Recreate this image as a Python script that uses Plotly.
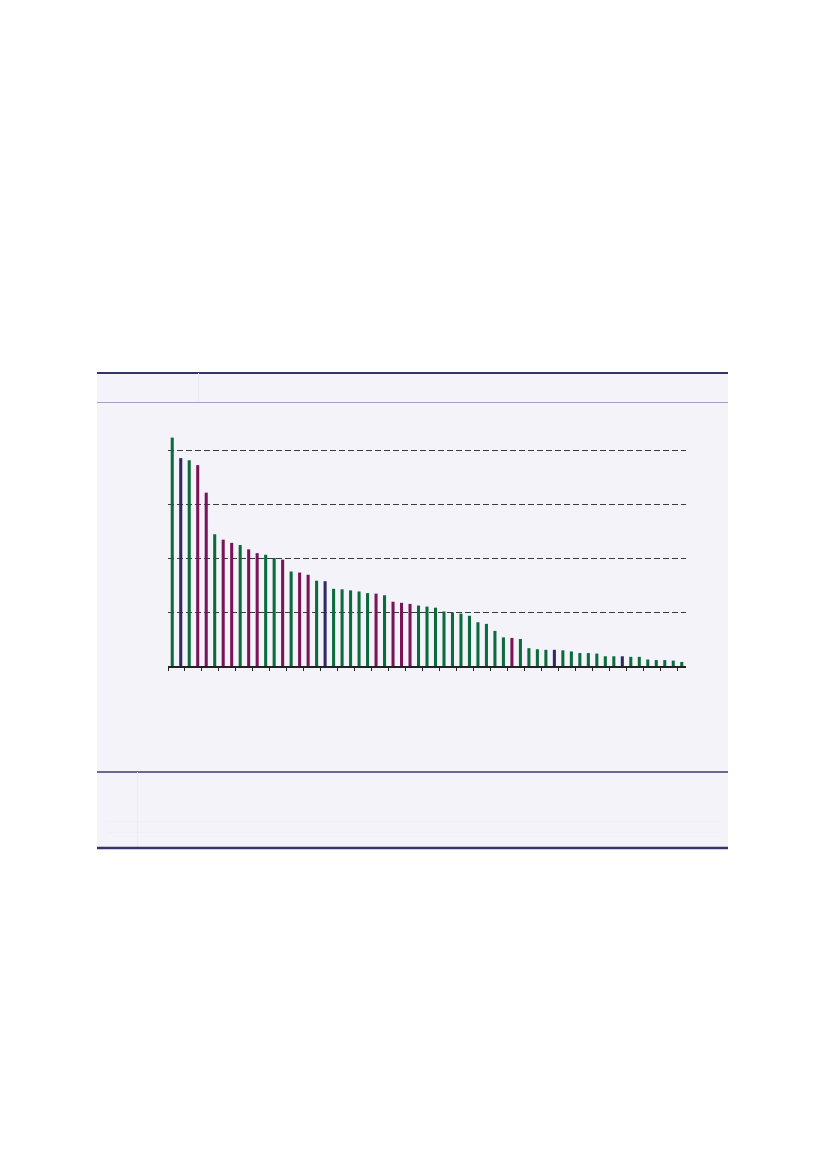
import plotly.graph_objects as go

# --- data (bars sorted descending) ---
categories = [f"C{i:02d}" for i in range(1, 62)]
values = [
    4.23, 3.85, 3.81, 3.72, 3.21, 2.44, 2.34, 2.28, 2.24, 2.16,
    2.09, 2.06, 2.00, 1.97, 1.75, 1.73, 1.69, 1.58, 1.57, 1.43,
    1.42, 1.40, 1.38, 1.35, 1.34, 1.31, 1.19, 1.17, 1.15, 1.12,
    1.10, 1.08, 1.01, 0.99, 0.97, 0.93, 0.81, 0.78, 0.65, 0.53,
    0.52, 0.50, 0.33, 0.31, 0.30, 0.30, 0.29, 0.27, 0.24, 0.24,
    0.23, 0.18, 0.18, 0.18, 0.17, 0.17, 0.12, 0.11, 0.11, 0.10,
    0.075,
]
groups = [
    "G", "N", "G", "P", "P", "G", "P", "P", "G", "P",
    "P", "G", "G", "P", "G", "P", "P", "G", "N", "G",
    "G", "G", "G", "G", "P", "G", "P", "P", "P", "G",
    "G", "G", "G", "G", "G", "G", "G", "G", "G", "G",
    "P", "G", "G", "G", "G", "N", "G", "G", "G", "G",
    "G", "G", "G", "N", "G", "G", "G", "G", "G", "G",
    "G",
]
grid_values = [1, 2, 3, 4]

GROUP_COLORS = {"G": "#0b6a3e", "P": "#7a1456", "N": "#2d2a66"}

W, H = 826, 1169
L, R, T, B = 168, 140, 428, 503
PLOT_W = W - L - R
PLOT_H = H - T - B


def px_x(x):
    return (x - L) / PLOT_W


def px_y(y):
    return (H - B - y) / PLOT_H


def hline(y, x0, x1, color, width):
    return dict(type="line", xref="paper", yref="paper",
                x0=px_x(x0), x1=px_x(x1), y0=px_y(y), y1=px_y(y),
                line=dict(color=color, width=width), layer="below")


def vline(x, y0, y1, color, width):
    return dict(type="line", xref="paper", yref="paper",
                x0=px_x(x), x1=px_x(x), y0=px_y(y0), y1=px_y(y1),
                line=dict(color=color, width=width), layer="below")


fig = go.Figure(
    go.Bar(
        x=categories,
        y=values,
        marker=dict(color=[GROUP_COLORS[g] for g in groups], line=dict(width=0)),
        width=0.36,
        hoverinfo="skip",
    )
)

shapes = [
    # panel background
    dict(type="rect", xref="paper", yref="paper",
         x0=px_x(97), x1=px_x(728), y0=px_y(848), y1=px_y(373),
         fillcolor="#f3f3f9", line=dict(width=0), layer="below"),
    hline(373, 97, 728, "#34346a", 2),
    hline(402.5, 97, 728, "#a2a2c4", 1),
    vline(198.5, 373, 402, "#ebebf3", 1),
    hline(772, 97, 728, "#3a3a70", 1.3),
    vline(137.5, 772, 848, "#ededf5", 1),
    hline(821.5, 107, 720, "#efeff6", 1),
    hline(832.5, 107, 720, "#efeff6", 1),
    hline(848, 97, 728, "#34346a", 2.5),
]

fig.update_layout(
    width=W,
    height=H,
    margin=dict(l=L, r=R, t=T, b=B, pad=0),
    paper_bgcolor="white",
    plot_bgcolor="rgba(0,0,0,0)",
    showlegend=False,
    bargap=0.64,
    shapes=shapes,
)
fig.update_xaxes(
    showline=True, linecolor="#222222", linewidth=1.5,
    ticks="outside", tickson="boundaries", ticklen=3, tickcolor="#222222",
    showticklabels=False, showgrid=False, zeroline=False,
    range=[-0.5, len(categories) - 0.5],
)
fig.update_yaxes(
    range=[0, PLOT_H / 54.0],
    tickvals=grid_values, showticklabels=False, ticks="",
    showgrid=True, gridcolor="#3a3a3a", gridwidth=1, griddash="6px,3px",
    zeroline=False, showline=False,
)

fig.write_html(
    "out.html",
    config={"displayModeBar": False},
    post_script="document.body.style.margin='0';",
)
